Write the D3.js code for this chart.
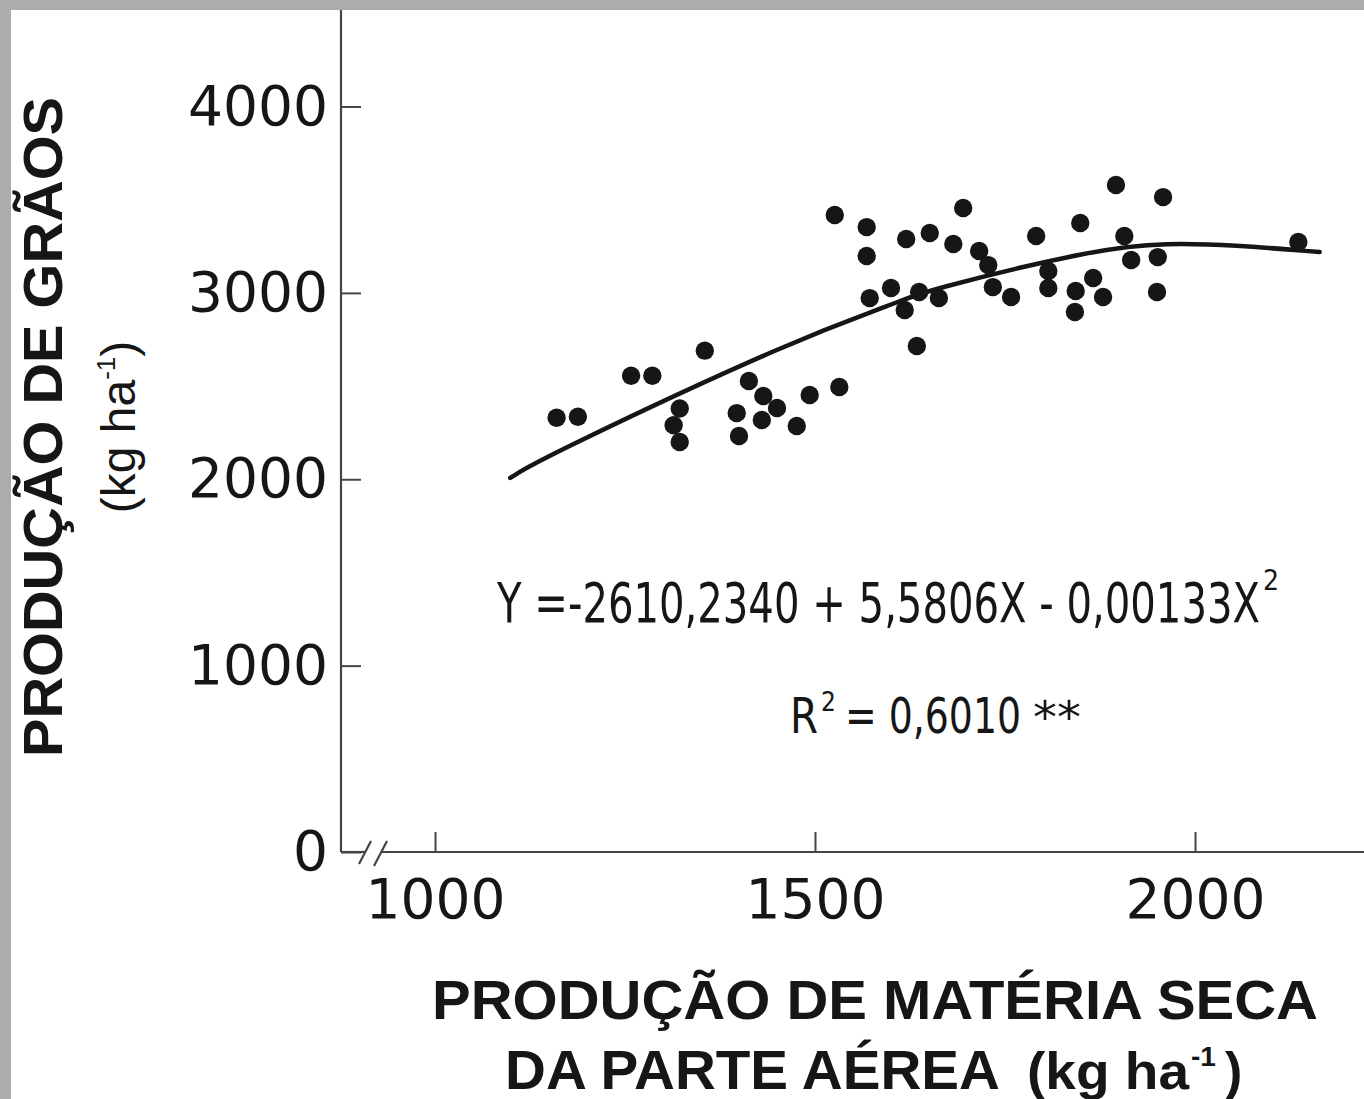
<!DOCTYPE html>
<html>
<head>
<meta charset="utf-8">
<script src="https://cdn.jsdelivr.net/npm/d3@7"></script>
<style>
body{margin:0;background:#fff}
svg{display:block}
</style>
</head>
<body>
<svg id="chart" width="1364" height="1099"></svg>
<script>
// tick values
let xTicks = [1000, 1500, 2000]
let yTicks = [0, 1000, 2000, 3000, 4000]

// dry matter (kg/ha) and grain yield (kg/ha)
let dryMatter = [1160, 1188, 1258, 1286, 1355, 1322, 1314, 1322, 1413, 1397, 1400, 1432, 1450, 1430, 1476, 1493, 1532,
  1526, 1568, 1568, 1620, 1651, 1695, 1682, 1716, 1728, 1734, 1758, 1572, 1600, 1637, 1618, 1663, 1634,
  1791, 1849, 1807, 1807, 1843, 1866, 1842, 1896, 1958, 1907, 1916, 1951, 1879, 1950, 2136]
let grain = [2330, 2335, 2555, 2555, 2690, 2380, 2290, 2200, 2527, 2355, 2232, 2447, 2382, 2318, 2286, 2452, 2495,
  3418, 3353, 3198, 3289, 3321, 3455, 3262, 3225, 3149, 3031, 2978, 2972, 3026, 3005, 2908, 2972, 2715,
  3305, 3375, 3117, 3026, 3010, 3080, 2897, 3579, 3514, 3305, 3176, 3192, 2978, 3005, 3273]

// fitted curve, points
let fitX = [1099, 1138, 1480, 1612, 1638, 1875, 1963, 2050, 2164]
let fitY = [2007, 2109, 2763, 2951, 3005, 3241, 3267, 3257, 3219]

let svg = d3.select('#chart')
let ink = '#161616'
let axisColor = '#454545'

// frame: grey band top and left
svg.append('rect').attr('width', 1364).attr('height', 1099).attr('fill', '#acacac')
svg.append('rect').attr('x', 11).attr('y', 10).attr('width', 1353).attr('height', 1089).attr('fill', '#fff')

let x = d3.scaleLinear().domain([1000, 2000]).range([435, 1195])
let y = d3.scaleLinear().domain([0, 4000]).range([852, 106.5])

let originX = 341
let originY = y(0)

// y axis
let yAxis = d3.axisLeft(y).tickValues(yTicks).tickSizeInner(-20).tickSizeOuter(0).tickPadding(13)
  .tickFormat(d3.format('d'))
let gy = svg.append('g').attr('transform', 'translate(' + originX + ',0)').call(yAxis)
gy.select('.domain').remove()

// x axis
let xAxis = d3.axisBottom(x).tickValues(xTicks).tickSizeInner(-20).tickSizeOuter(0).tickPadding(27)
  .tickFormat(d3.format('d'))
let gx = svg.append('g').attr('transform', 'translate(0,' + originY + ')').call(xAxis)
gx.select('.domain').remove()

svg.selectAll('.tick line').attr('stroke', axisColor).attr('stroke-width', 2)
svg.selectAll('.tick text')
  .attr('font-family', '"DejaVu Sans", sans-serif')
  .attr('font-size', 55)
  .attr('fill', ink)

// axis lines, with the break on x
let lines = svg.append('g').attr('stroke', axisColor).attr('stroke-width', 2.2).attr('fill', 'none')
lines.append('line').attr('x1', originX).attr('y1', 10).attr('x2', originX).attr('y2', originY)
lines.append('line').attr('x1', originX).attr('y1', originY).attr('x2', originX + 24).attr('y2', originY)
lines.append('line').attr('x1', originX + 40).attr('y1', originY).attr('x2', 1364).attr('y2', originY)
lines.append('line').attr('x1', originX + 18).attr('y1', originY + 12).attr('x2', originX + 30).attr('y2', originY - 11)
lines.append('line').attr('x1', originX + 33).attr('y1', originY + 14).attr('x2', originX + 46).attr('y2', originY - 11)

// fitted curve
let fit = fitX.map((d, i) => [d, fitY[i]])
let line = d3.line().x(d => x(d[0])).y(d => y(d[1])).curve(d3.curveBasis)
svg.append('path')
  .attr('d', line(fit))
  .attr('fill', 'none')
  .attr('stroke', ink)
  .attr('stroke-width', 4.5)
  .attr('stroke-linecap', 'round')

// points
svg.append('g').selectAll('circle')
  .data(dryMatter)
  .enter()
  .append('circle')
  .attr('cx', d => x(d))
  .attr('cy', (d, i) => y(grain[i]))
  .attr('r', 9.2)
  .attr('fill', ink)

// equation
let eqFont = '"Liberation Sans Narrow", "DejaVu Sans Condensed", sans-serif'
svg.append('text')
  .attr('x', 497).attr('y', 622)
  .attr('font-family', eqFont).attr('font-size', 55).attr('fill', ink)
  .attr('textLength', 763).attr('lengthAdjust', 'spacingAndGlyphs')
  .text('Y =-2610,2340 + 5,5806X - 0,00133X')
svg.append('text')
  .attr('x', 1263).attr('y', 590)
  .attr('font-family', eqFont).attr('font-size', 28).attr('fill', ink)
  .text('2')

svg.append('text')
  .attr('x', 790).attr('y', 733)
  .attr('font-family', eqFont).attr('font-size', 50).attr('fill', ink)
  .attr('textLength', 28).attr('lengthAdjust', 'spacingAndGlyphs')
  .text('R')
svg.append('text')
  .attr('x', 821).attr('y', 711)
  .attr('font-family', eqFont).attr('font-size', 26).attr('fill', ink)
  .text('2')
svg.append('text')
  .attr('x', 845).attr('y', 733)
  .attr('font-family', eqFont).attr('font-size', 50).attr('fill', ink)
  .attr('textLength', 176).attr('lengthAdjust', 'spacingAndGlyphs')
  .text('= 0,6010')
svg.append('text')
  .attr('x', 1033).attr('y', 733)
  .attr('font-family', eqFont).attr('font-size', 44).attr('fill', ink)
  .attr('textLength', 48).attr('lengthAdjust', 'spacingAndGlyphs')
  .text('**')

// axis titles
let titleFont = '"Liberation Sans", Arial, sans-serif'

svg.append('text')
  .attr('x', 875).attr('y', 1019)
  .attr('text-anchor', 'middle')
  .attr('font-family', titleFont).attr('font-weight', 'bold').attr('font-size', 55).attr('fill', ink)
  .attr('textLength', 886).attr('lengthAdjust', 'spacingAndGlyphs')
  .text('PRODUÇÃO DE MATÉRIA SECA')

svg.append('text')
  .attr('x', 505).attr('y', 1089)
  .attr('font-family', titleFont).attr('font-weight', 'bold').attr('font-size', 55).attr('fill', ink)
  .attr('textLength', 495).attr('lengthAdjust', 'spacingAndGlyphs')
  .text('DA PARTE AÉREA')
svg.append('text')
  .attr('x', 1027).attr('y', 1089)
  .attr('font-family', titleFont).attr('font-weight', 'bold').attr('font-size', 52).attr('fill', ink)
  .attr('textLength', 162).attr('lengthAdjust', 'spacingAndGlyphs')
  .text('(kg ha')
svg.append('text')
  .attr('x', 1191).attr('y', 1066)
  .attr('font-family', titleFont).attr('font-weight', 'bold').attr('font-size', 28).attr('fill', ink)
  .text('-1')
svg.append('text')
  .attr('x', 1225).attr('y', 1089)
  .attr('font-family', titleFont).attr('font-weight', 'bold').attr('font-size', 52).attr('fill', ink)
  .text(')')

let yt = svg.append('g').attr('transform', 'translate(62,427) rotate(-90)')
yt.append('text')
  .attr('text-anchor', 'middle')
  .attr('font-family', titleFont).attr('font-weight', 'bold').attr('font-size', 55).attr('fill', ink)
  .attr('textLength', 660).attr('lengthAdjust', 'spacingAndGlyphs')
  .text('PRODUÇÃO DE GRÃOS')
let yt2 = yt.append('text')
  .attr('y', 73)
  .attr('text-anchor', 'middle')
  .attr('font-family', titleFont).attr('font-size', 48).attr('fill', ink)
yt2.append('tspan').text('(kg ha')
yt2.append('tspan').attr('font-size', 26).attr('dy', -20).text('-1')
yt2.append('tspan').attr('dy', 20).text(')')
</script>
</body>
</html>
